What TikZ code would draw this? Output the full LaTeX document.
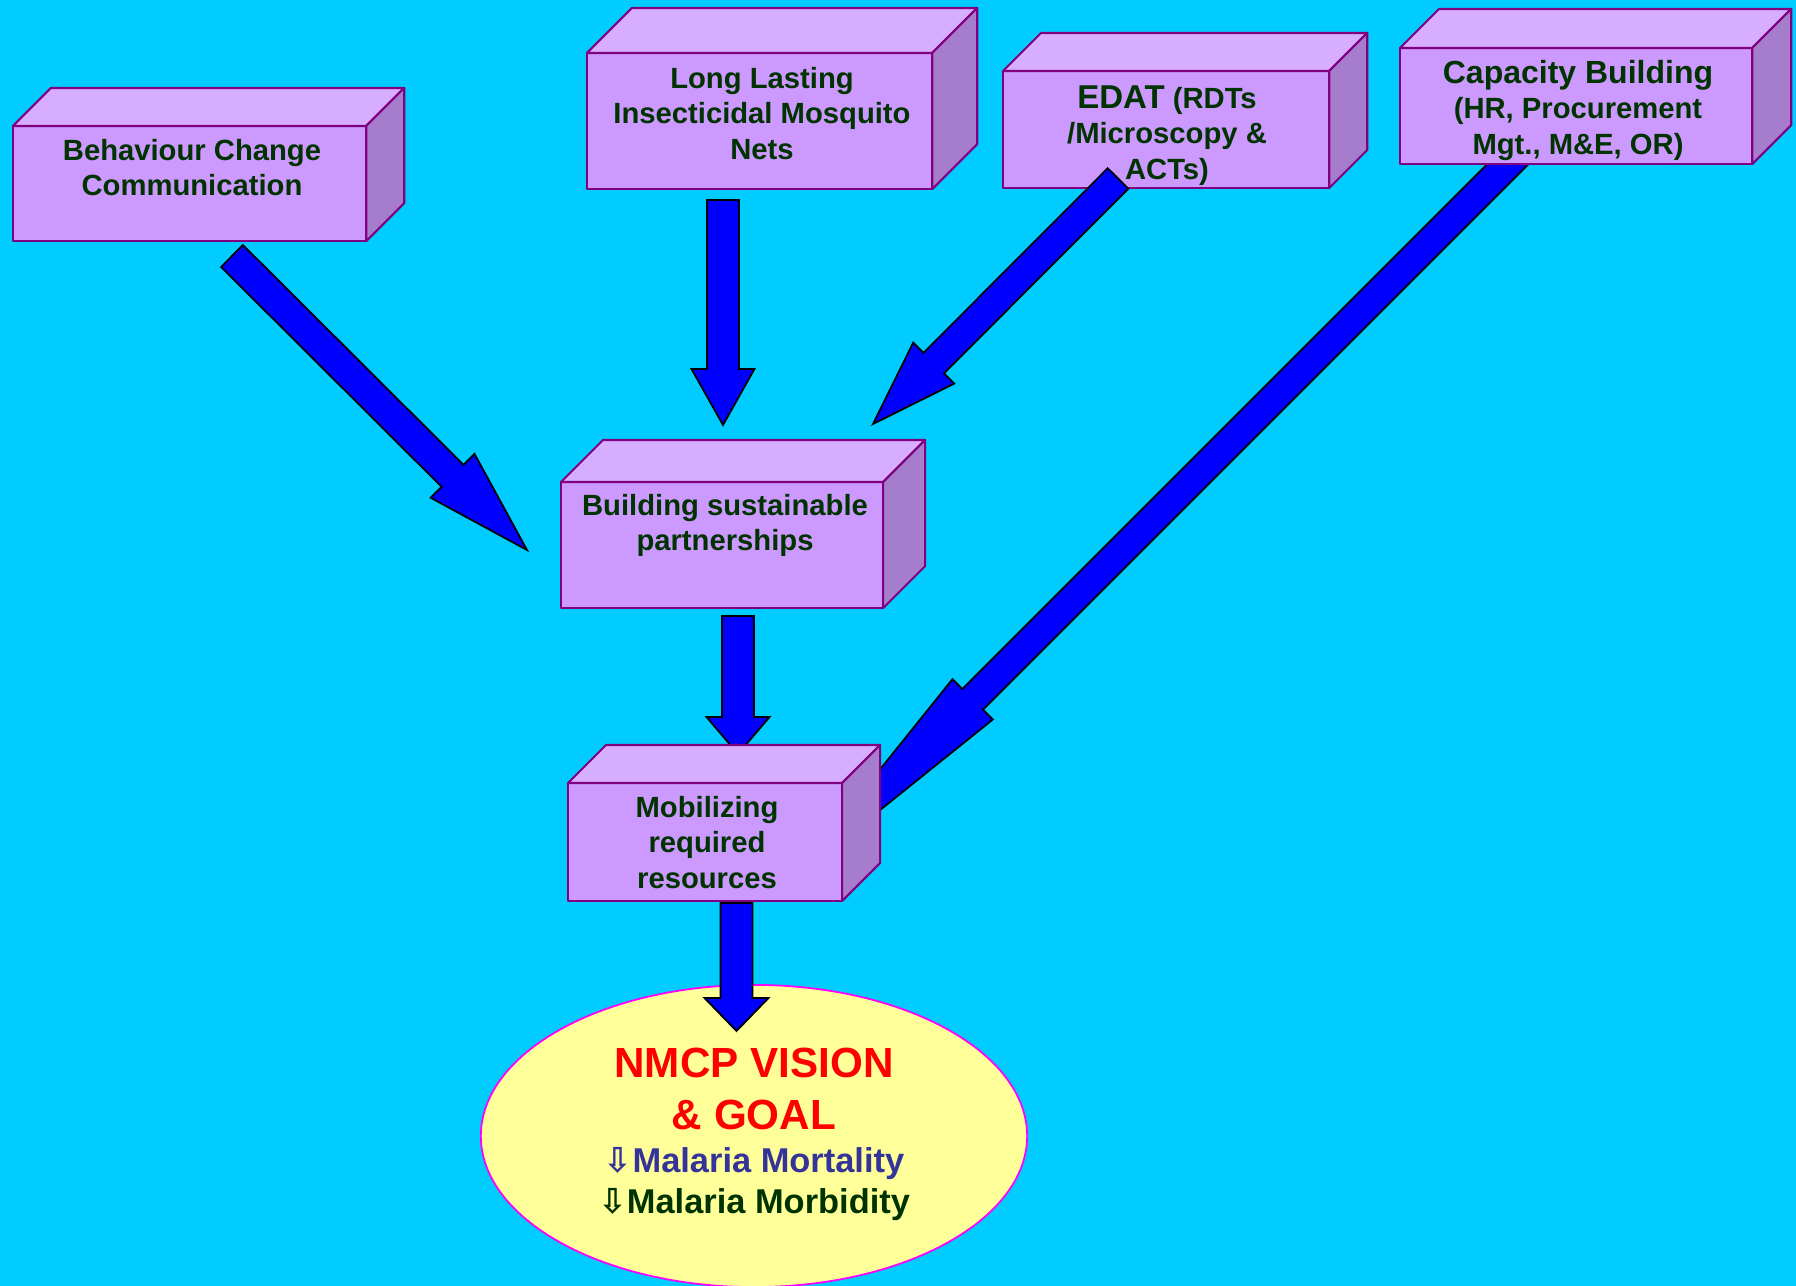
\documentclass[tikz,border=0pt]{standalone}
\usepackage{fontspec}
\setmainfont{Liberation Sans}
\newfontfamily\arrowfont{DejaVu Sans}
\usetikzlibrary{calc,shapes.geometric}
\definecolor{bgblue}{HTML}{00CCFF}
\definecolor{boxfront}{HTML}{CC99FF}
\definecolor{boxtop}{HTML}{D6ADFF}
\definecolor{boxside}{HTML}{A67DCC}
\definecolor{boxline}{HTML}{800080}
\definecolor{arrowblue}{HTML}{0000FF}
\definecolor{tgreen}{HTML}{003300}
\definecolor{tnavy}{HTML}{333399}
\definecolor{ellfill}{HTML}{FFFF99}
\definecolor{ellline}{HTML}{FF00FF}
\tikzset{
  boxface/.style={draw=boxline, line width=0.6pt, line join=round},
  cube/.style={boxface, fill=boxfront, rectangle, inner sep=0pt, outer sep=0pt, anchor=north west},
  arrowstyle/.style={draw=black, fill=arrowblue, line width=0.5pt, line join=miter},
  boxtext/.style={inner sep=0pt, outer sep=0pt, anchor=north, align=center, text=tgreen,
    font=\bfseries\fontsize{8.31}{10.1}\selectfont},
}
% top and side faces of a box drawn on a front node
\newcommand\cubefaces[2]{%
  \filldraw[boxface, fill=boxtop] (#1.north west) -- ++(#2,-#2) -- ($(#1.north east)+(#2,-#2)$) -- (#1.north east) -- cycle;
  \filldraw[boxface, fill=boxside] (#1.north east) -- ++(#2,-#2) -- ($(#1.south east)+(#2,-#2)$) -- (#1.south east) -- cycle;
}
% block arrow: tail, tip, half shaft width, half head width, head length
\newcommand\blockarrow[5]{%
  \coordinate (ba) at ($(#2)!#5!(#1)$);
  \filldraw[arrowstyle] ($(#1)!#3!90:(#2)$) -- ($(ba)!#3!90:(#2)$) -- ($(ba)!#4!90:(#2)$) -- (#2)
    -- ($(ba)!#4!-90:(#2)$) -- ($(ba)!#3!-90:(#2)$) -- ($(#1)!#3!-90:(#2)$) -- cycle;
}
\begin{document}
\begin{tikzpicture}[x=0.01cm, y=-0.01cm]
\useasboundingbox (0,0) rectangle (1796,1286);
\fill[bgblue] (0,0) rectangle (1796,1286);

% goal ellipse
\node[ellipse, draw=ellline, fill=ellfill, line width=0.5pt, minimum width=5.46cm, minimum height=3.02cm, inner sep=0pt] (goal) at (754,1136) {};

% arrow end coordinates
\coordinate (cA1) at (232,256);   \coordinate (cA2) at (527,550);
\coordinate (cB1) at (723,200);   \coordinate (cB2) at (723,425);
\coordinate (cC1) at (1118,178.5);\coordinate (cC2) at (873,424);
\coordinate (cD1) at (1540,132);  \coordinate (cD2) at (788,884);
\coordinate (cE1) at (738,616);   \coordinate (cE2) at (738,754);
\coordinate (cF1) at (736.5,903); \coordinate (cF2) at (736.5,1031);

% arrows lying behind boxes
\blockarrow{cD1}{cD2}{1.45mm}{2.85mm}{26.1mm}
\blockarrow{cE1}{cE2}{1.6mm}{3.15mm}{3.7mm}

% boxes
\node[cube, minimum width=3.53cm, minimum height=1.15cm] (bcc) at (13,126) {};
\cubefaces{bcc}{38}
\node[cube, minimum width=3.45cm, minimum height=1.36cm] (llin) at (587,53) {};
\cubefaces{llin}{45}
\node[cube, minimum width=3.26cm, minimum height=1.17cm] (edat) at (1003,71) {};
\cubefaces{edat}{38}
\node[cube, minimum width=3.52cm, minimum height=1.16cm] (cap) at (1400,48) {};
\cubefaces{cap}{39}
\node[cube, minimum width=3.22cm, minimum height=1.26cm] (bsp) at (561,482) {};
\cubefaces{bsp}{42}
\node[cube, minimum width=2.74cm, minimum height=1.18cm] (mrr) at (568,783) {};
\cubefaces{mrr}{38}

% arrows on top
\blockarrow{cA1}{cA2}{1.55mm}{3.1mm}{10.5mm}
\blockarrow{cB1}{cB2}{1.6mm}{3.15mm}{5.6mm}
\blockarrow{cC1}{cC2}{1.45mm}{2.9mm}{8.6mm}
\blockarrow{cF1}{cF2}{1.6mm}{3.2mm}{3.3mm}

% texts
\node[boxtext] (tbcc) at (192,130) {\rule{0pt}{3mm}Behaviour Change\\Communication};
\node[boxtext] (tllin) at (762,58) {\rule{0pt}{3mm}Long Lasting\\Insecticidal Mosquito\\Nets};
\node[boxtext] (tedat) at (1167,78) {\rule{0pt}{3mm}{\fontsize{9.39}{10.1}\selectfont EDAT} (RDTs\\/Microscopy \&\\ACTs)};
\node[boxtext] (tcap) at (1578,53) {\rule{0pt}{3mm}{\fontsize{9.1}{10.1}\selectfont Capacity Building}\\(HR, Procurement\\Mgt., M\&E, OR)};
\node[boxtext] (tbsp) at (725,485) {\rule{0pt}{3mm}Building sustainable\\partnerships};
\node[boxtext] (tmrr) at (707,787) {\rule{0pt}{3mm}Mobilizing\\required\\resources};
\node[boxtext, text=red, font=\bfseries\fontsize{12}{14.8}\selectfont] (tgoal) at (754,1037) {\rule{0pt}{4mm}NMCP VISION\\\& GOAL};
\node[boxtext, font=\bfseries\fontsize{9.79}{11.67}\selectfont] (tmal) at (754,1142)
  {\rule{0pt}{3mm}{\color{tnavy}{\arrowfont ⇩}Malaria Mortality}\\{\color{tgreen}{\arrowfont ⇩}Malaria Morbidity}};
\end{tikzpicture}
\end{document}
